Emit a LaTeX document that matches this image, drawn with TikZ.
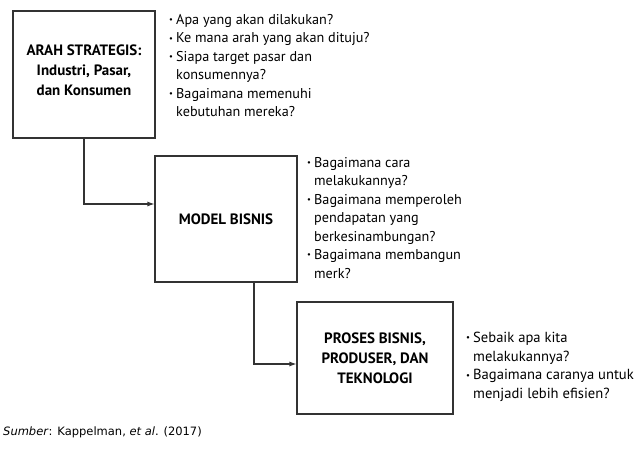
\documentclass[tikz,border=0pt]{standalone}
\usepackage{fontspec}
\usepackage{graphicx}
\setmainfont{PT Sans}
\newfontfamily\capfont{DejaVu Sans}
\usetikzlibrary{positioning,arrows.meta}
\newcommand\qbul{\makebox[7pt][l]{\raisebox{1.8pt}{\scalebox{0.6}{\textbullet}}}}
\newcommand\qind{\hspace*{7pt}}

\begin{document}
\begin{tikzpicture}[x=1pt,y=1pt]
\tikzset{sbox/.style={draw=black!80,line width=1.1pt,align=center,inner sep=2pt,font=\fontsize{15}{20}\selectfont\bfseries},
  qlist/.style={align=left,inner sep=0pt,anchor=north west,font=\fontsize{14.2}{18.5}\selectfont},
  flow/.style={draw=black!80,line width=1.1pt,-{Latex[length=7pt,width=5pt]}}}
\useasboundingbox (0,0) rectangle (635,461);
% the three boxes
\node[sbox,minimum width=142pt,minimum height=127pt] (arah) at (84,386.5) {ARAH STRATEGIS:\\Industri, Pasar,\\dan Konsumen\\[-12pt]\mbox{}};
\node[sbox,minimum width=142pt,minimum height=126pt] (model) at (226,242) {MODEL BISNIS};
\node[sbox,minimum width=156pt,minimum height=112pt] (proses) at (375,103) {PROSES BISNIS,\\PRODUSER, DAN\\TEKNOLOGI};
% questions
\node[qlist] (qarah) at (169,447) {\qbul Apa yang akan dilakukan?\\\qbul Ke mana arah yang akan dituju?\\\qbul Siapa target pasar dan\\\qind konsumennya?\\\qbul Bagaimana memenuhi\\\qind kebutuhan mereka?};
\node[qlist] (qmodel) at (307,304) {\qbul Bagaimana cara\\\qind melakukannya?\\\qbul Bagaimana memperoleh\\\qind pendapatan yang\\\qind berkesinambungan?\\\qbul Bagaimana membangun\\\qind merk?};
\node[qlist,font=\fontsize{14.6}{18.7}\selectfont] (qproses) at (466,129) {\qbul Sebaik apa kita\\\qind melakukannya?\\\qbul Bagaimana caranya untuk\\\qind menjadi lebih efisien?};
% connectors
\draw[flow] (arah.south) |- ([yshift=15pt]model.west);
\draw[flow] ([xshift=28pt]model.south) |- ([yshift=-6pt]proses.west);
% source
\node[anchor=west,inner sep=0pt,font=\capfont\fontsize{11.5}{14}\selectfont] (src) at (3,29) {\textit{Sumber}: Kappelman, \textit{et al}. (2017)};
\end{tikzpicture}
\end{document}
